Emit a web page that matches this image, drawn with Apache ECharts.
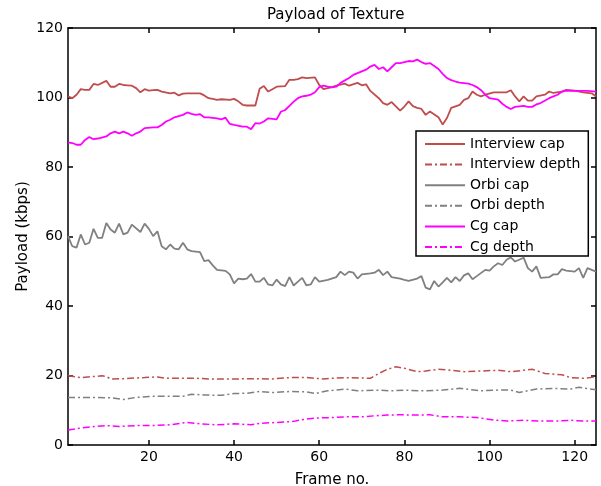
<!DOCTYPE html>
<html>
<head>
<meta charset="utf-8">
<script src="https://cdn.jsdelivr.net/npm/echarts@6/dist/echarts.min.js"></script>
<style>
    html, body { margin: 0; padding: 0; background: #fff; }
    #chart { width: 601px; height: 486px; }
</style>
</head>
<body>
<div id="chart"></div>
<script>
var xTicks = [20, 40, 60, 80, 100, 120];

// [frame, kbps]
var interviewCap = [
    [1, 100.3], [2, 99.8], [3, 100.8], [4, 102.4], [5, 102.2], [6, 102.2], [7, 103.9], [8, 103.6],
    [10, 104.8], [11, 103.1], [12, 103.1], [13, 103.9], [14, 103.6], [15, 103.5], [16, 103.4], [17, 102.7],
    [18, 101.5], [19, 102.4], [20, 102], [21, 102.1], [22, 102.2], [23, 101.7], [25, 101.2], [26, 101.4],
    [27, 100.6], [28, 101.1], [29, 101.2], [32, 101.2], [33, 100.6], [34, 99.8], [35, 99.6], [36, 99.3],
    [37, 99.5], [39, 99.3], [40, 99.6], [41, 98.9], [42, 97.9], [43, 97.7], [45, 97.7], [46, 102.5],
    [47, 103.3], [48, 101.7], [49, 102.4], [50, 103.1], [52, 103.3], [53, 105.1], [54, 105.1], [55, 105.3],
    [56, 105.8], [57, 105.6], [59, 105.8], [60, 103.6], [61, 102.4], [62, 102.7], [63, 103.0], [64, 103.4],
    [66, 104], [67, 103.4], [69, 104.2], [70, 103.5], [71, 103.8], [72, 101.9], [74, 99.8], [75, 98.4],
    [76, 97.9], [77, 98.7], [79, 96.2], [80, 97.4], [81, 98.9], [82, 97.5], [83, 97], [84, 96.7],
    [85, 95], [86, 96], [88, 94.3], [89, 92.2], [90, 94.1], [91, 97], [93, 97.9], [94, 99.3],
    [95, 99.8], [96, 101.7], [97, 100.8], [98, 100.3], [99, 100.8], [101, 101.5], [104, 101.5], [105, 102.1],
    [106, 100.3], [107, 98.9], [108, 100.3], [109, 99.1], [110, 99.1], [111, 100.3], [113, 100.8], [114, 101.7],
    [115, 101.3], [117, 101.7], [118, 102.2], [120, 102], [122, 101.5], [124, 101.2], [125, 100.3]
];

var interviewDepth = [
    [1, 19.9], [4, 19.4], [9, 19.9], [10, 19.7], [11, 19.0], [14, 19.1], [19, 19.4], [22, 19.6],
    [24, 19.2], [31, 19.2], [34, 19.0], [38, 19.0], [41, 19.0], [42, 19.1], [46, 19.1], [49, 19.0],
    [53, 19.4], [57, 19.4], [60, 19.1], [61, 19.0], [63, 19.2], [66, 19.4], [72, 19.2], [74, 20.6],
    [76, 21.8], [78, 22.5], [80, 22.1], [83, 21.1], [85, 21.3], [88, 21.8], [91, 21.5], [94, 21.1],
    [98, 21.3], [102, 21.5], [105, 21.1], [108, 21.5], [110, 21.8], [113, 20.6], [117, 20.2], [119, 19.4],
    [122, 19.2], [125, 19.6]
];

var orbiCap = [
    [1, 60.1], [2, 57.2], [3, 56.8], [4, 60.6], [5, 57.7], [6, 58.2], [7, 62.2], [8, 59.6],
    [9, 59.6], [10, 63.9], [11, 62], [12, 61.1], [13, 63.7], [14, 60.6], [15, 61.1], [16, 63.4],
    [18, 61.3], [19, 63.7], [20, 62.2], [21, 60.1], [22, 61.5], [23, 57.2], [24, 56.3], [25, 57.7],
    [26, 56.5], [27, 56.3], [28, 58.2], [29, 56.3], [30, 55.8], [32, 55.5], [33, 52.9], [34, 53.2],
    [35, 51.7], [36, 50.4], [38, 50.1], [39, 49.1], [40, 46.5], [41, 47.9], [42, 47.7], [43, 47.9],
    [44, 49.2], [45, 47], [46, 47], [47, 48.1], [48, 46.2], [49, 45.9], [50, 47.6], [51, 46.2],
    [52, 45.7], [53, 48.3], [54, 45.9], [55, 47], [56, 48.1], [57, 45.9], [58, 46.2], [59, 48.3],
    [60, 47], [62, 47.5], [64, 48.3], [65, 49.9], [66, 48.9], [67, 49.9], [68, 49.6], [69, 47.9],
    [70, 49.1], [72, 49.4], [73, 49.6], [74, 50.4], [75, 48.9], [76, 49.9], [77, 48.3], [79, 47.9],
    [80, 47.5], [81, 47.2], [83, 47.9], [84, 48.6], [85, 45.3], [86, 44.8], [87, 47.2], [88, 45.6],
    [89, 46.8], [90, 48.1], [91, 46.8], [92, 48.3], [93, 47.2], [94, 48.8], [95, 49.4], [96, 47.7],
    [97, 48.6], [99, 50.4], [100, 50.2], [101, 51.4], [102, 52.3], [103, 51.8], [104, 53.3], [105, 54],
    [106, 52.8], [108, 53.9], [109, 50.9], [110, 49.9], [111, 51.4], [112, 48.1], [114, 48.3], [115, 49.1],
    [116, 49.1], [117, 50.6], [118, 50.2], [120, 49.9], [121, 50.9], [122, 48.1], [123, 50.9], [125, 49.9]
];

var orbiDepth = [
    [1, 13.7], [7, 13.7], [11, 13.6], [14, 13.1], [17, 13.7], [21, 14], [25, 14], [28, 14],
    [30, 14.6], [33, 14.4], [37, 14.3], [40, 14.8], [43, 14.9], [46, 15.4], [49, 15.1], [53, 15.4],
    [57, 15.3], [59, 14.8], [62, 15.6], [66, 16.1], [69, 15.6], [73, 15.8], [77, 15.6], [80, 15.8],
    [84, 15.6], [89, 15.8], [93, 16.3], [98, 15.6], [102, 15.8], [105, 15.8], [107, 15.1], [111, 16.1],
    [115, 16.3], [119, 16.1], [121, 16.6], [125, 15.9]
];

var cgCap = [
    [1, 87.1], [2, 86.9], [3, 86.4], [4, 86.4], [5, 87.8], [6, 88.6], [7, 88], [8, 88.2],
    [10, 88.8], [11, 89.7], [12, 90.2], [13, 89.7], [14, 90.2], [15, 89.7], [16, 89], [17, 89.7],
    [18, 90.2], [19, 91.2], [21, 91.4], [22, 91.4], [23, 92.1], [24, 93.1], [25, 93.6], [26, 94.3],
    [28, 95], [29, 95.7], [30, 95.3], [31, 95], [32, 95.2], [33, 94.3], [34, 94.3], [36, 94],
    [37, 93.7], [38, 94.2], [39, 92.4], [40, 92.1], [42, 91.6], [43, 91.6], [44, 90.9], [45, 92.6],
    [46, 92.5], [47, 93.1], [48, 94], [50, 93.7], [51, 95.9], [52, 96.4], [53, 97.6], [54, 98.8],
    [55, 99.8], [56, 100.3], [57, 100.5], [58, 100.8], [59, 101.5], [60, 103], [61, 103.4], [62, 103.1],
    [63, 102.9], [64, 103.1], [65, 104.2], [67, 105.6], [68, 106.5], [70, 107.5], [71, 108], [72, 108.9],
    [73, 109.4], [74, 108.2], [75, 108.7], [76, 107.5], [77, 108.7], [78, 109.9], [79, 109.9], [81, 110.5],
    [82, 110.4], [83, 110.9], [84, 110.2], [85, 109.7], [86, 109.9], [88, 108.2], [89, 106.8], [90, 105.6],
    [91, 105], [92, 104.6], [93, 104.3], [95, 104], [96, 103.6], [97, 103], [98, 102.1], [99, 100.8],
    [100, 99.8], [102, 99.4], [103, 98.2], [104, 97.3], [105, 96.7], [106, 97.3], [108, 97.6], [109, 97.3],
    [110, 97.3], [111, 98], [112, 98.4], [114, 99.8], [115, 100.3], [116, 100.8], [117, 101.7], [118, 102],
    [120, 101.9], [123, 101.9], [125, 101.7]
];

var cgDepth = [
    [1, 4.3], [4, 4.9], [7, 5.3], [10, 5.6], [13, 5.3], [17, 5.6], [21, 5.6], [25, 5.8],
    [29, 6.5], [32, 6.1], [36, 5.8], [40, 6.1], [44, 5.8], [46, 6.2], [50, 6.5], [54, 6.8],
    [57, 7.5], [60, 7.8], [63, 7.9], [66, 8.1], [70, 8.1], [73, 8.4], [76, 8.6], [79, 8.7],
    [82, 8.6], [86, 8.7], [89, 8.1], [93, 8.1], [97, 7.9], [101, 7.2], [104, 6.9], [108, 7.1],
    [112, 6.9], [116, 6.9], [119, 7.1], [122, 6.9], [125, 6.9]
];

var chart = echarts.init(document.getElementById('chart'));

var font = 'DejaVu Sans';
var dashDot = [7, 3, 2, 3];

function mkSeries(name, data, color, dashed) {
    return {
        name: name,
        type: 'line',
        data: data,
        symbol: 'none',
        color: color,
        lineStyle: {
            color: color,
            width: dashed ? 1.5 : 1.8,
            type: dashed ? dashDot : 'solid'
        },
        animation: false
    };
}

function mkXAxis(pos, showLabel) {
    return {
        type: 'value',
        position: pos,
        min: 1,
        max: 125,
        axisLine: { show: true, onZero: false, lineStyle: { color: '#000', width: 1.5 } },
        axisTick: { show: true, inside: true, length: 5, customValues: xTicks, lineStyle: { color: '#000', width: 1.5 } },
        axisLabel: { show: showLabel, customValues: xTicks, color: '#000', fontFamily: font, fontSize: 14, margin: 5 },
        splitLine: { show: false }
    };
}

function mkYAxis(pos, showLabel) {
    return {
        type: 'value',
        position: pos,
        min: 0,
        max: 120,
        interval: 20,
        axisLine: { show: true, onZero: false, lineStyle: { color: '#000', width: 1.5 } },
        axisTick: { show: true, inside: true, length: 5, lineStyle: { color: '#000', width: 1.5 } },
        axisLabel: { show: showLabel, color: '#000', fontFamily: font, fontSize: 14, margin: 5 },
        splitLine: { show: false }
    };
}

var xBottom = mkXAxis('bottom', true);
xBottom.name = 'Frame no.';
xBottom.nameLocation = 'middle';
xBottom.nameGap = 28;
xBottom.nameMoveOverlap = false;
xBottom.nameTextStyle = { color: '#000', fontFamily: font, fontSize: 15 };

var yLeft = mkYAxis('left', true);
yLeft.name = 'Payload (kbps)';
yLeft.nameLocation = 'middle';
yLeft.nameGap = 37;
yLeft.nameMoveOverlap = false;
yLeft.nameTextStyle = { color: '#000', fontFamily: font, fontSize: 15 };

var option = {
    animation: false,
    backgroundColor: '#fff',
    title: {
        text: 'Payload of Texture',
        left: 262,
        top: 3,
        textStyle: { color: '#000', fontFamily: font, fontSize: 15, fontWeight: 'normal' }
    },
    grid: { left: 68, right: 5, top: 28, bottom: 41, outerBoundsMode: 'none' },
    xAxis: [xBottom, mkXAxis('top', false)],
    yAxis: [yLeft, mkYAxis('right', false)],
    legend: {
        orient: 'vertical',
        left: 416,
        top: 131,
        padding: [6, 8, 2, 8],
        itemWidth: 40,
        itemHeight: 14,
        itemGap: 6.6,
        itemStyle: { opacity: 0 },
        backgroundColor: '#fff',
        borderColor: '#000',
        borderWidth: 1.5,
        borderRadius: 0,
        textStyle: { color: '#000', fontFamily: font, fontSize: 14 },
        data: ['Interview cap', 'Interview depth', 'Orbi cap', 'Orbi depth', 'Cg cap', 'Cg depth']
    },
    series: [
        mkSeries('Interview cap', interviewCap, '#bf4d4d', false),
        mkSeries('Interview depth', interviewDepth, '#bf4d4d', true),
        mkSeries('Orbi cap', orbiCap, '#808080', false),
        mkSeries('Orbi depth', orbiDepth, '#808080', true),
        mkSeries('Cg cap', cgCap, '#ff00ff', false),
        mkSeries('Cg depth', cgDepth, '#ff00ff', true)
    ]
};

chart.setOption(option);
</script>
</body>
</html>
